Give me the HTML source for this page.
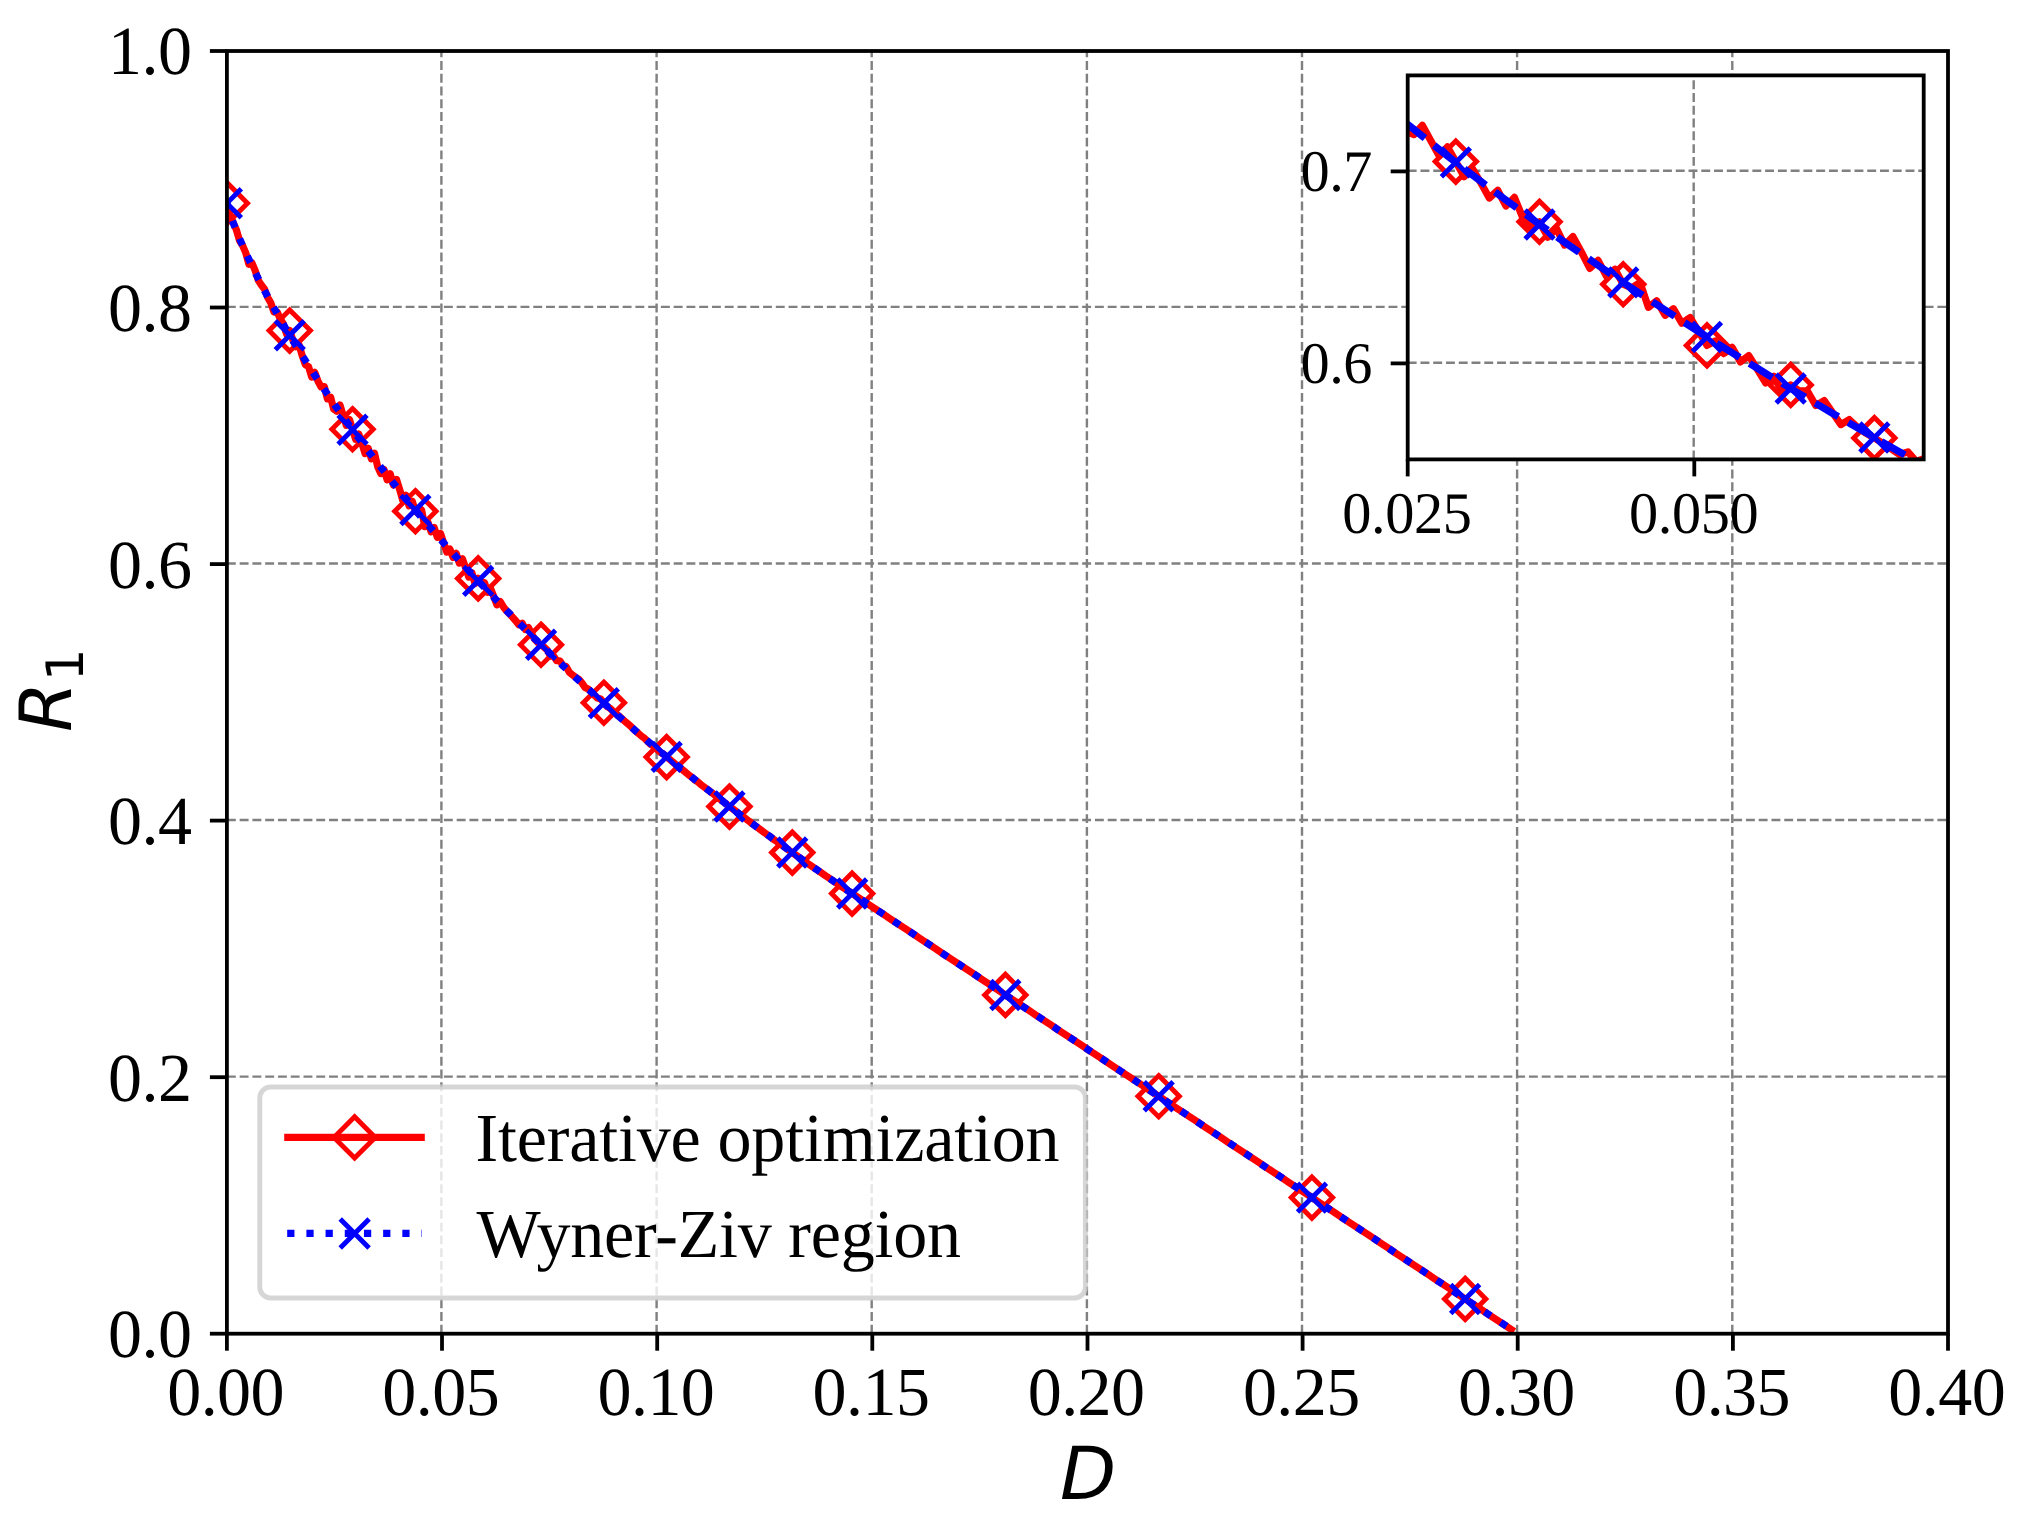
<!DOCTYPE html>
<html><head><meta charset="utf-8"><title>Rate-distortion plot</title>
<style>html,body{margin:0;padding:0;background:#fff}svg{display:block}text{text-rendering:geometricPrecision;font-family:"Liberation Serif","Times New Roman",serif;fill:#000}.m{font-family:"DejaVu Sans",sans-serif;font-style:oblique}.s{font-family:"DejaVu Sans",sans-serif}</style></head>
<body>
<svg width="2035" height="1525" viewBox="0 0 2035 1525">
<rect width="2035" height="1525" fill="#fff"/>
<defs><clipPath id="cm"><rect x="226.9" y="51.0" width="1721.1" height="1282.7"/></clipPath><clipPath id="ci"><rect x="1407.7" y="75.4" width="516.0" height="384.0"/></clipPath></defs>
<g stroke="#808080" stroke-width="2.41" stroke-dasharray="8.91 3.855" fill="none">
<path d="M441.4 1333.7V51.0"/><path d="M656.6 1333.7V51.0"/><path d="M871.7 1333.7V51.0"/><path d="M1086.9 1333.7V51.0"/><path d="M1302.0 1333.7V51.0"/><path d="M1517.1 1333.7V51.0"/><path d="M1732.3 1333.7V51.0"/><path d="M226.9 1076.6H1948.0"/><path d="M226.9 820.0H1948.0"/><path d="M226.9 563.5H1948.0"/><path d="M226.9 306.9H1948.0"/>
</g>
<g clip-path="url(#cm)" fill="none">
<path d="M226.9 203.3 L230.0 215.2 L233.2 222.6 L236.3 229.6 L239.5 240.6 L242.6 245.6 L245.7 252.6 L248.9 264.4 L252.0 263.1 L255.2 270.7 L258.3 280.4 L261.5 285.3 L264.6 289.3 L267.7 297.4 L270.9 303.1 L274.0 312.2 L277.2 312.1 L280.3 318.9 L283.4 323.9 L286.6 334.3 L289.7 330.5 L292.9 340.1 L296.0 346.7 L299.1 345.0 L302.3 355.9 L305.4 364.8 L308.6 366.8 L311.7 377.0 L314.8 372.4 L318.0 381.3 L321.1 386.9 L324.3 386.5 L327.4 398.8 L330.6 397.2 L333.7 409.1 L336.8 411.2 L340.0 405.0 L343.1 415.2 L346.3 425.4 L349.4 419.4 L352.5 429.3 L355.7 439.3 L358.8 434.1 L362.0 443.6 L365.1 453.6 L368.2 448.4 L371.4 458.9 L374.5 453.2 L377.7 466.8 L380.8 473.6 L384.0 469.5 L387.1 479.8 L390.2 473.7 L393.4 485.0 L396.5 479.4 L399.7 489.6 L402.8 500.6 L405.9 495.3 L409.1 505.9 L412.2 501.2 L415.4 511.2 L418.5 513.6 L421.6 509.9 L424.8 526.6 L427.9 522.2 L431.1 531.9 L434.2 527.5 L437.3 537.2 L440.5 533.5 L443.6 542.7 L446.8 552.0 L449.9 549.1 L453.1 557.5 L456.2 553.3 L459.3 563.1 L462.5 558.8 L465.6 567.9 L468.8 577.1 L471.9 572.7 L475.0 583.6 L478.2 578.4 L481.3 582.2 L484.5 582.5 L487.6 592.2 L490.7 588.8 L493.9 596.9 L497.0 604.9 L500.2 601.5 L503.3 606.7 L506.4 610.7 L509.6 613.9 L512.7 617.4 L515.9 621.0 L519.0 624.9 L522.2 623.2 L525.3 629.5 L528.4 627.5 L531.6 633.7 L534.7 639.3 L537.9 642.6 L541.0 644.8 L544.1 647.2 L547.3 650.2 L550.4 656.2 L553.6 656.1 L556.7 660.7 L559.8 660.8 L563.0 665.6 L566.1 666.5 L569.3 672.2 L572.4 674.9 L575.6 677.2 L578.7 679.3 L581.8 682.7 L585.0 687.4 L588.1 688.9 L591.3 691.8 L594.4 695.1 L597.5 698.1 L600.7 699.0 L603.8 702.8 L607.0 706.5 L610.1 708.3 L613.2 711.4 L616.4 714.3 L619.5 716.5 L622.7 719.4 L625.8 722.2 L628.9 724.6 L632.1 727.7 L635.2 730.8 L638.4 733.4 L641.5 736.1 L644.7 738.4 L647.8 741.6 L650.9 744.5 L654.1 746.4 L657.2 749.5 L660.4 752.3 L663.5 754.1 L666.6 757.0 L669.8 759.3 L672.9 762.1 L676.1 764.8 L679.2 767.4 L682.3 769.7 L685.5 772.2 L688.6 774.8 L691.8 777.2 L694.9 780.0 L698.1 782.1 L701.2 784.9 L704.3 787.1 L707.5 789.4 L710.6 791.8 L713.8 794.2 L716.9 797.1 L720.0 799.2 L723.2 801.5 L726.3 804.0 L729.5 806.6 L732.6 808.8 L735.7 811.1 L738.9 813.8 L742.0 815.9 L745.2 818.2 L748.3 820.7 L751.4 823.0 L754.6 825.4 L757.7 827.7 L760.9 830.0 L764.0 832.3 L767.2 834.6 L770.3 836.8 L773.4 839.2 L776.6 841.4 L779.7 843.6 L782.9 845.9 L786.0 848.2 L789.1 850.3 L792.3 852.6 L795.4 854.8 L798.6 857.0 L801.7 859.2 L804.8 861.4 L808.0 863.7 L811.1 865.8 L814.3 867.9 L817.4 870.1 L820.6 872.3 L823.7 874.4 L826.8 876.6 L830.0 878.7 L833.1 880.9 L836.3 883.0 L839.4 885.0 L842.5 887.2 L845.7 889.3 L848.8 891.3 L851.0 892.8 L852.1 893.6 L859.8 898.6 L867.5 903.7 L875.1 908.8 L882.8 913.8 L890.4 918.9 L898.1 924.0 L905.8 929.0 L913.4 934.1 L921.1 939.2 L928.8 944.2 L936.4 949.3 L944.1 954.4 L951.8 959.4 L959.4 964.5 L967.1 969.6 L974.7 974.6 L982.4 979.7 L990.1 984.8 L997.7 989.8 L1005.4 994.9 L1013.1 1000.0 L1020.7 1005.0 L1028.4 1010.1 L1036.0 1015.2 L1043.7 1020.2 L1051.4 1025.3 L1059.0 1030.4 L1066.7 1035.4 L1074.4 1040.5 L1082.0 1045.6 L1089.7 1050.7 L1097.4 1055.7 L1105.0 1060.8 L1112.7 1065.9 L1120.3 1070.9 L1128.0 1076.0 L1135.7 1081.1 L1143.3 1086.1 L1151.0 1091.2 L1158.7 1096.3 L1166.3 1101.3 L1174.0 1106.4 L1181.7 1111.5 L1189.3 1116.5 L1197.0 1121.6 L1204.6 1126.7 L1212.3 1131.7 L1220.0 1136.8 L1227.6 1141.9 L1235.3 1146.9 L1243.0 1152.0 L1250.6 1157.1 L1258.3 1162.1 L1265.9 1167.2 L1273.6 1172.3 L1281.3 1177.3 L1288.9 1182.4 L1296.6 1187.5 L1304.3 1192.5 L1311.9 1197.6 L1319.6 1202.7 L1327.3 1207.7 L1334.9 1212.8 L1342.6 1217.9 L1350.2 1222.9 L1357.9 1228.0 L1365.6 1233.1 L1373.2 1238.1 L1380.9 1243.2 L1388.6 1248.3 L1396.2 1253.4 L1403.9 1258.4 L1411.5 1263.5 L1419.2 1268.6 L1426.9 1273.6 L1434.5 1278.7 L1442.2 1283.8 L1449.9 1288.8 L1457.5 1293.9 L1465.2 1299.0 L1472.9 1304.0 L1480.5 1309.1 L1488.2 1314.2 L1495.8 1319.2 L1503.5 1324.3 L1511.2 1329.4" stroke="#ff0000" stroke-width="7.2" stroke-linejoin="round" stroke-linecap="square"/>
<g stroke="#ff0000" stroke-width="4.9" stroke-linejoin="miter"><path d="M226.9 182.6L247.5 203.3L226.9 223.9L206.3 203.3Z"/><path d="M289.7 309.9L310.4 330.5L289.7 351.2L269.1 330.5Z"/><path d="M352.5 408.6L373.2 429.3L352.5 449.9L331.9 429.3Z"/><path d="M415.4 490.6L436.0 511.2L415.4 531.9L394.7 511.2Z"/><path d="M478.2 557.8L498.8 578.4L478.2 599.1L457.5 578.4Z"/><path d="M541.0 624.1L561.6 644.8L541.0 665.4L520.4 644.8Z"/><path d="M603.8 682.1L624.5 702.8L603.8 723.4L583.2 702.8Z"/><path d="M666.6 736.4L687.3 757.0L666.6 777.7L646.0 757.0Z"/><path d="M729.5 786.0L750.1 806.6L729.5 827.3L708.8 806.6Z"/><path d="M792.3 832.0L812.9 852.6L792.3 873.3L771.6 852.6Z"/><path d="M852.1 872.9L872.8 893.6L852.1 914.2L831.5 893.6Z"/><path d="M1005.4 974.3L1026.0 994.9L1005.4 1015.6L984.7 994.9Z"/><path d="M1158.7 1075.6L1179.3 1096.3L1158.7 1116.9L1138.0 1096.3Z"/><path d="M1311.9 1177.0L1332.6 1197.6L1311.9 1218.3L1291.3 1197.6Z"/><path d="M1465.2 1278.3L1485.8 1299.0L1465.2 1319.6L1444.5 1299.0Z"/></g>
<path d="M226.9 203.3 L230.0 213.9 L233.2 222.7 L236.3 230.8 L239.5 238.4 L242.6 245.6 L245.7 252.6 L248.9 259.4 L252.0 266.0 L255.2 272.4 L258.3 278.6 L261.5 284.8 L264.6 290.8 L267.7 296.7 L270.9 302.4 L274.0 308.1 L277.2 313.7 L280.3 319.2 L283.4 324.6 L286.6 330.0 L289.7 335.3 L292.9 340.5 L296.0 345.6 L299.1 350.7 L302.3 355.8 L305.4 360.7 L308.6 365.6 L311.7 370.5 L314.8 375.3 L318.0 380.1 L321.1 384.8 L324.3 389.5 L327.4 394.1 L330.6 398.7 L333.7 403.3 L336.8 407.8 L340.0 412.2 L343.1 416.7 L346.3 421.1 L349.4 425.4 L352.5 429.7 L355.7 434.0 L358.8 438.3 L362.0 442.5 L365.1 446.7 L368.2 450.8 L371.4 455.0 L374.5 459.1 L377.7 463.1 L380.8 467.2 L384.0 471.2 L387.1 475.2 L390.2 479.2 L393.4 483.1 L396.5 487.0 L399.7 490.9 L402.8 494.7 L405.9 498.6 L409.1 502.4 L412.2 506.2 L415.4 509.9 L418.5 513.7 L421.6 517.4 L424.8 521.1 L427.9 524.8 L431.1 528.4 L434.2 532.0 L437.3 535.7 L440.5 539.2 L443.6 542.8 L446.8 546.4 L449.9 549.9 L453.1 553.4 L456.2 556.9 L459.3 560.4 L462.5 563.8 L465.6 567.3 L468.8 570.7 L471.9 574.1 L475.0 577.5 L478.2 580.8 L481.3 584.2 L484.5 587.5 L487.6 590.8 L490.7 594.1 L493.9 597.4 L497.0 600.7 L500.2 603.9 L503.3 607.2 L506.4 610.4 L509.6 613.6 L512.7 616.8 L515.9 619.9 L519.0 623.1 L522.2 626.2 L525.3 629.4 L528.4 632.5 L531.6 635.6 L534.7 638.7 L537.9 641.7 L541.0 644.8 L544.1 647.8 L547.3 650.8 L550.4 653.9 L553.6 656.9 L556.7 659.9 L559.8 662.8 L563.0 665.8 L566.1 668.7 L569.3 671.7 L572.4 674.6 L575.6 677.5 L578.7 680.4 L581.8 683.3 L585.0 686.2 L588.1 689.0 L591.3 691.9 L594.4 694.7 L597.5 697.5 L600.7 700.3 L603.8 703.1 L607.0 705.9 L610.1 708.7 L613.2 711.5 L616.4 714.2 L619.5 717.0 L622.7 719.7 L625.8 722.4 L628.9 725.1 L632.1 727.8 L635.2 730.5 L638.4 733.2 L641.5 735.9 L644.7 738.5 L647.8 741.2 L650.9 743.8 L654.1 746.4 L657.2 749.1 L660.4 751.7 L663.5 754.3 L666.6 756.8 L669.8 759.4 L672.9 762.0 L676.1 764.5 L679.2 767.1 L682.3 769.6 L685.5 772.1 L688.6 774.6 L691.8 777.2 L694.9 779.6 L698.1 782.1 L701.2 784.6 L704.3 787.1 L707.5 789.5 L710.6 792.0 L713.8 794.4 L716.9 796.9 L720.0 799.3 L723.2 801.7 L726.3 804.1 L729.5 806.5 L732.6 808.9 L735.7 811.3 L738.9 813.6 L742.0 816.0 L745.2 818.3 L748.3 820.7 L751.4 823.0 L754.6 825.3 L757.7 827.7 L760.9 830.0 L764.0 832.3 L767.2 834.6 L770.3 836.8 L773.4 839.1 L776.6 841.4 L779.7 843.6 L782.9 845.9 L786.0 848.1 L789.1 850.4 L792.3 852.6 L795.4 854.8 L798.6 857.0 L801.7 859.2 L804.8 861.4 L808.0 863.6 L811.1 865.8 L814.3 868.0 L817.4 870.1 L820.6 872.3 L823.7 874.4 L826.8 876.6 L830.0 878.7 L833.1 880.8 L836.3 883.0 L839.4 885.1 L842.5 887.2 L845.7 889.3 L848.8 891.4 L851.0 892.8 L852.1 893.6 L859.8 898.6 L867.5 903.7 L875.1 908.8 L882.8 913.8 L890.4 918.9 L898.1 924.0 L905.8 929.0 L913.4 934.1 L921.1 939.2 L928.8 944.2 L936.4 949.3 L944.1 954.4 L951.8 959.4 L959.4 964.5 L967.1 969.6 L974.7 974.6 L982.4 979.7 L990.1 984.8 L997.7 989.8 L1005.4 994.9 L1013.1 1000.0 L1020.7 1005.0 L1028.4 1010.1 L1036.0 1015.2 L1043.7 1020.2 L1051.4 1025.3 L1059.0 1030.4 L1066.7 1035.4 L1074.4 1040.5 L1082.0 1045.6 L1089.7 1050.7 L1097.4 1055.7 L1105.0 1060.8 L1112.7 1065.9 L1120.3 1070.9 L1128.0 1076.0 L1135.7 1081.1 L1143.3 1086.1 L1151.0 1091.2 L1158.7 1096.3 L1166.3 1101.3 L1174.0 1106.4 L1181.7 1111.5 L1189.3 1116.5 L1197.0 1121.6 L1204.6 1126.7 L1212.3 1131.7 L1220.0 1136.8 L1227.6 1141.9 L1235.3 1146.9 L1243.0 1152.0 L1250.6 1157.1 L1258.3 1162.1 L1265.9 1167.2 L1273.6 1172.3 L1281.3 1177.3 L1288.9 1182.4 L1296.6 1187.5 L1304.3 1192.5 L1311.9 1197.6 L1319.6 1202.7 L1327.3 1207.7 L1334.9 1212.8 L1342.6 1217.9 L1350.2 1222.9 L1357.9 1228.0 L1365.6 1233.1 L1373.2 1238.1 L1380.9 1243.2 L1388.6 1248.3 L1396.2 1253.4 L1403.9 1258.4 L1411.5 1263.5 L1419.2 1268.6 L1426.9 1273.6 L1434.5 1278.7 L1442.2 1283.8 L1449.9 1288.8 L1457.5 1293.9 L1465.2 1299.0 L1472.9 1304.0 L1480.5 1309.1 L1488.2 1314.2 L1495.8 1319.2 L1503.5 1324.3 L1511.2 1329.4" stroke="#0000ff" stroke-width="7.2" stroke-dasharray="7.23 11.92" stroke-dashoffset="0.8"/>
<g stroke="#0000ff" stroke-width="4.9"><path d="M212.5 188.8L241.3 217.7M212.5 217.7L241.3 188.8"/><path d="M275.3 320.8L304.2 349.7M275.3 349.7L304.2 320.8"/><path d="M338.1 415.3L367.0 444.2M338.1 444.2L367.0 415.3"/><path d="M400.9 495.5L429.8 524.4M400.9 524.4L429.8 495.5"/><path d="M463.7 566.4L492.6 595.3M463.7 595.3L492.6 566.4"/><path d="M526.6 630.3L555.5 659.2M526.6 659.2L555.5 630.3"/><path d="M589.4 688.7L618.3 717.6M589.4 717.6L618.3 688.7"/><path d="M652.2 742.4L681.1 771.3M652.2 771.3L681.1 742.4"/><path d="M715.0 792.0L743.9 820.9M715.0 820.9L743.9 792.0"/><path d="M777.8 838.1L806.7 867.0M777.8 867.0L806.7 838.1"/><path d="M837.7 879.1L866.6 908.0M837.7 908.0L866.6 879.1"/><path d="M990.9 980.5L1019.8 1009.4M990.9 1009.4L1019.8 980.5"/><path d="M1144.2 1081.8L1173.1 1110.7M1144.2 1110.7L1173.1 1081.8"/><path d="M1297.5 1183.2L1326.4 1212.1M1297.5 1212.1L1326.4 1183.2"/><path d="M1450.7 1284.5L1479.6 1313.4M1450.7 1313.4L1479.6 1284.5"/></g>
</g>
<g stroke="#000" stroke-width="3.8" fill="none">
<rect x="226.9" y="51.0" width="1721.1" height="1282.7" stroke-linejoin="miter"/><path d="M226.9 1333.7v17.0"/><path d="M442.0 1333.7v17.0"/><path d="M657.2 1333.7v17.0"/><path d="M872.3 1333.7v17.0"/><path d="M1087.5 1333.7v17.0"/><path d="M1302.6 1333.7v17.0"/><path d="M1517.7 1333.7v17.0"/><path d="M1732.9 1333.7v17.0"/><path d="M1948.0 1333.7v17.0"/><path d="M226.9 1333.7h-17.0"/><path d="M226.9 1077.2h-17.0"/><path d="M226.9 820.6h-17.0"/><path d="M226.9 564.1h-17.0"/><path d="M226.9 307.5h-17.0"/><path d="M226.9 51.0h-17.0"/>
</g>
<g font-size="68.06"><text transform="translate(167.2 1414.7) scale(1 1.012)" textLength="117.4">0.00</text><text transform="translate(382.3 1414.7) scale(1 1.012)" textLength="117.4">0.05</text><text transform="translate(597.5 1414.7) scale(1 1.012)" textLength="117.4">0.10</text><text transform="translate(812.6 1414.7) scale(1 1.012)" textLength="117.4">0.15</text><text transform="translate(1027.7 1414.7) scale(1 1.012)" textLength="117.4">0.20</text><text transform="translate(1242.9 1414.7) scale(1 1.012)" textLength="117.4">0.25</text><text transform="translate(1458.0 1414.7) scale(1 1.012)" textLength="117.4">0.30</text><text transform="translate(1673.2 1414.7) scale(1 1.012)" textLength="117.4">0.35</text><text transform="translate(1888.3 1414.7) scale(1 1.012)" textLength="117.4">0.40</text></g>
<g font-size="68.06"><text transform="translate(108.1 1357.1) scale(1 1.012)" textLength="83.9">0.0</text><text transform="translate(108.1 1100.6) scale(1 1.012)" textLength="83.9">0.2</text><text transform="translate(108.1 844.0) scale(1 1.012)" textLength="83.9">0.4</text><text transform="translate(108.1 587.5) scale(1 1.012)" textLength="83.9">0.6</text><text transform="translate(108.1 330.9) scale(1 1.012)" textLength="83.9">0.8</text><text transform="translate(108.1 74.4) scale(1 1.012)" textLength="83.9">1.0</text></g>
<text class="m" font-size="72.9" text-anchor="middle" x="1088.1" y="1498.7">D</text>
<text class="m" font-size="72.0" transform="translate(71.4 731.9) rotate(-90)">R<tspan class="s" font-style="normal" font-size="51.5" dx="0.6" dy="11.5">1</tspan></text>
<rect x="1407.7" y="75.4" width="516.0" height="384.0" fill="#fff"/>
<g stroke="#808080" stroke-width="2.41" stroke-dasharray="8.91 3.855" fill="none">
<path d="M1693.7 459.4V75.4"/><path d="M1407.7 362.8H1923.7"/><path d="M1407.7 170.8H1923.7"/>
</g>
<g clip-path="url(#ci)" fill="none">
<path d="M1355.4 76.4 L1363.7 89.8 L1372.1 98.2 L1380.5 97.5 L1388.8 116.0 L1397.2 113.6 L1405.6 131.4 L1414.0 134.6 L1422.3 125.3 L1430.7 140.6 L1439.1 155.8 L1447.4 146.9 L1455.8 161.6 L1464.2 176.7 L1472.6 168.9 L1480.9 183.0 L1489.3 198.0 L1497.7 190.3 L1506.0 206.0 L1514.4 197.4 L1522.8 217.8 L1531.2 228.0 L1539.5 221.8 L1547.9 237.2 L1556.3 228.2 L1564.6 245.1 L1573.0 236.6 L1581.4 252.0 L1589.8 268.4 L1598.1 260.4 L1606.5 276.4 L1614.9 269.3 L1623.2 284.3 L1631.6 287.9 L1640.0 282.4 L1648.4 307.4 L1656.7 300.8 L1665.1 315.3 L1673.5 308.7 L1681.8 323.2 L1690.2 317.6 L1698.6 331.5 L1707.0 345.4 L1715.3 341.0 L1723.7 353.6 L1732.1 347.3 L1740.4 361.9 L1748.8 355.6 L1757.2 369.2 L1765.6 382.9 L1773.9 376.3 L1782.3 392.6 L1790.7 384.9 L1799.0 390.6 L1807.4 391.0 L1815.8 405.5 L1824.2 400.5 L1832.5 412.5 L1840.9 424.6 L1849.3 419.5 L1857.6 427.3 L1866.0 433.2 L1874.4 438.0 L1882.8 443.2 L1891.1 448.7 L1899.5 454.5 L1907.9 451.9 L1916.2 461.4 L1924.6 458.4 L1933.0 467.7 L1941.4 476.1 L1949.7 481.0 L1958.1 484.2 L1966.5 487.8 L1974.8 492.3" stroke="#ff0000" stroke-width="7.2" stroke-linejoin="round"/>
<g stroke="#ff0000" stroke-width="4.9" stroke-linejoin="miter"><path d="M1372.1 77.6L1392.7 98.2L1372.1 118.9L1351.5 98.2Z"/><path d="M1455.8 141.0L1476.5 161.6L1455.8 182.2L1435.2 161.6Z"/><path d="M1539.5 201.2L1560.2 221.8L1539.5 242.4L1518.9 221.8Z"/><path d="M1623.2 263.7L1643.9 284.3L1623.2 304.9L1602.6 284.3Z"/><path d="M1707.0 324.8L1727.6 345.4L1707.0 366.0L1686.3 345.4Z"/><path d="M1790.7 364.3L1811.3 384.9L1790.7 405.5L1770.0 384.9Z"/><path d="M1874.4 417.4L1895.0 438.0L1874.4 458.6L1853.7 438.0Z"/><path d="M1958.1 463.6L1978.8 484.2L1958.1 504.9L1937.5 484.2Z"/></g>
<path d="M1355.4 80.9 L1363.7 88.0 L1372.1 95.1 L1380.5 102.1 L1388.8 109.0 L1397.2 115.9 L1405.6 122.7 L1414.0 129.4 L1422.3 136.1 L1430.7 142.7 L1439.1 149.3 L1447.4 155.8 L1455.8 162.3 L1464.2 168.7 L1472.6 175.1 L1480.9 181.4 L1489.3 187.7 L1497.7 193.9 L1506.0 200.1 L1514.4 206.2 L1522.8 212.3 L1531.2 218.4 L1539.5 224.4 L1547.9 230.4 L1556.3 236.3 L1564.6 242.2 L1573.0 248.0 L1581.4 253.9 L1589.8 259.6 L1598.1 265.4 L1606.5 271.1 L1614.9 276.7 L1623.2 282.4 L1631.6 288.0 L1640.0 293.5 L1648.4 299.1 L1656.7 304.6 L1665.1 310.0 L1673.5 315.5 L1681.8 320.9 L1690.2 326.3 L1698.6 331.6 L1707.0 336.9 L1715.3 342.2 L1723.7 347.5 L1732.1 352.7 L1740.4 357.9 L1748.8 363.1 L1757.2 368.2 L1765.6 373.3 L1773.9 378.4 L1782.3 383.5 L1790.7 388.5 L1799.0 393.5 L1807.4 398.5 L1815.8 403.5 L1824.2 408.4 L1832.5 413.3 L1840.9 418.2 L1849.3 423.1 L1857.6 427.9 L1866.0 432.7 L1874.4 437.5 L1882.8 442.3 L1891.1 447.1 L1899.5 451.8 L1907.9 456.5 L1916.2 461.2 L1924.6 465.8 L1933.0 470.5 L1941.4 475.1 L1949.7 479.7 L1958.1 484.2 L1966.5 488.8 L1974.8 493.3" stroke="#0000ff" stroke-width="7.2" stroke-dasharray="26.79 11.58" stroke-dashoffset="13.40"/>
<g stroke="#0000ff" stroke-width="4.9"><path d="M1357.6 80.6L1386.5 109.5M1357.6 109.5L1386.5 80.6"/><path d="M1441.4 147.9L1470.3 176.8M1441.4 176.8L1470.3 147.9"/><path d="M1525.1 210.0L1554.0 238.9M1525.1 238.9L1554.0 210.0"/><path d="M1608.8 267.9L1637.7 296.8M1608.8 296.8L1637.7 267.9"/><path d="M1692.5 322.5L1721.4 351.4M1692.5 351.4L1721.4 322.5"/><path d="M1776.2 374.1L1805.1 403.0M1776.2 403.0L1805.1 374.1"/><path d="M1859.9 423.1L1888.8 452.0M1859.9 452.0L1888.8 423.1"/><path d="M1943.7 469.8L1972.6 498.7M1943.7 498.7L1972.6 469.8"/></g>
</g>
<g stroke="#000" stroke-width="3.8" fill="none">
<rect x="1407.7" y="75.4" width="516.0" height="384.0"/><path d="M1407.7 459.4v17.0"/><path d="M1694.3 459.4v17.0"/><path d="M1407.7 363.4h-17.0"/><path d="M1407.7 171.4h-17.0"/>
</g>
<g font-size="58.33"><text transform="translate(1342.3 533.0) scale(1 1.012)" textLength="129.7">0.025</text><text transform="translate(1629.0 533.0) scale(1 1.012)" textLength="129.7">0.050</text></g>
<g font-size="58.33"><text transform="translate(1300.6 383.2) scale(1 1.012)" textLength="71.9">0.6</text><text transform="translate(1300.6 191.2) scale(1 1.012)" textLength="71.9">0.7</text></g>
<rect x="259.8" y="1087.0" width="825.6" height="211.0" rx="10.8" ry="10.8" fill="#fff" fill-opacity="0.8" stroke="#ccc" stroke-opacity="0.8" stroke-width="4.9"/>
<g fill="none"><path d="M284.2 1137.4H424.8" stroke="#ff0000" stroke-width="7.2"/><g stroke="#ff0000" stroke-width="4.9"><path d="M354.6 1116.8L375.2 1137.4L354.6 1158.0L334.0 1137.4Z"/></g><path d="M287.2 1233.4H422" stroke="#0000ff" stroke-width="7.2" stroke-dasharray="7.24 11.95"/><g stroke="#0000ff" stroke-width="4.9"><path d="M340.2 1219.0L369.1 1247.9M340.2 1247.9L369.1 1219.0"/></g></g>
<g font-size="68.06"><text transform="translate(475.4 1161.2) scale(1 1.012)" textLength="584.2">Iterative optimization</text><text transform="translate(476.6 1257.2) scale(1 1.012)" textLength="484.4">Wyner-Ziv region</text></g>
</svg>
</body></html>
